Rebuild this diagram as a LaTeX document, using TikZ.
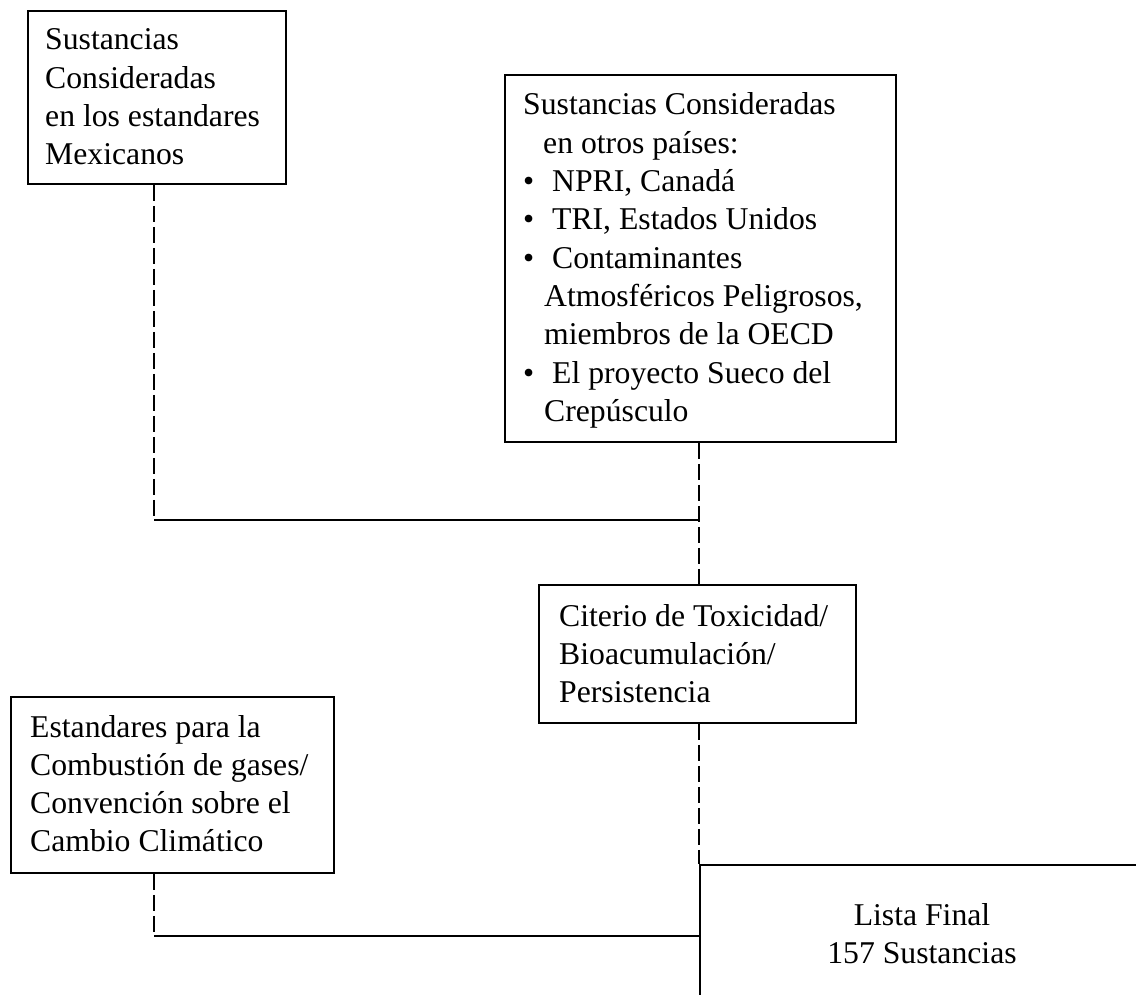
\documentclass[tikz,border=0pt]{standalone}
\usepackage{fontspec}
\setmainfont{Liberation Serif}
\begin{document}
\begin{tikzpicture}[x=1pt,y=-1pt,
  box/.style={draw, line width=1.8pt, rectangle, inner sep=0pt, anchor=north west},
  txt/.style={inner sep=0pt, anchor=base west, font=\fontsize{31.7}{38.3}\selectfont},
  ctxt/.style={inner sep=0pt, anchor=base, font=\fontsize{31.7}{38.3}\selectfont},
  link/.style={line width=1.8pt},
  dlink/.style={line width=1.8pt, dash pattern=on 16pt off 5pt}]
\useasboundingbox (0,0) rectangle (1136,995);
\clip (0,0) rectangle (1136,995);
% boxes
\node[box, minimum width=258pt, minimum height=173pt] (b1) at (27,10) {};
\node[box, minimum width=391pt, minimum height=367pt] (b2) at (504,74) {};
\node[box, minimum width=317pt, minimum height=138pt] (b3) at (538,584) {};
\node[box, minimum width=323pt, minimum height=176pt] (b4) at (10,696) {};
\node[box, minimum width=600pt, minimum height=300pt] (fin) at (699,864) {};
% texts
\node[txt] (t1) at (45,50) {\begin{tabular}[t]{@{}l@{}}Sustancias\\Consideradas\\en los estandares\\Mexicanos\end{tabular}};
\node[txt] (t2) at (523,115) {\begin{tabular}[t]{@{}l@{}}Sustancias Consideradas\\
\hspace*{20pt}en otros países:\\
\makebox[29pt][l]{•}NPRI, Canadá\\
\makebox[29pt][l]{•}TRI, Estados Unidos\\
\makebox[29pt][l]{•}Contaminantes\\
\hspace*{21pt}Atmosféricos Peligrosos,\\
\hspace*{21pt}miembros de la OECD\\
\makebox[29pt][l]{•}El proyecto Sueco del\\
\hspace*{21pt}Crepúsculo\end{tabular}};
\node[txt] (t3) at (559,626) {\begin{tabular}[t]{@{}l@{}}Citerio de Toxicidad/\\Bioacumulación/\\Persistencia\end{tabular}};
\node[txt] (t4) at (30,737) {\begin{tabular}[t]{@{}l@{}}Estandares para la\\Combustión de gases/\\Convención sobre el\\Cambio Climático\end{tabular}};
\node[ctxt] (tf) at (922,925) {\begin{tabular}[t]{@{}c@{}}Lista Final\\157 Sustancias\end{tabular}};
% connectors
\coordinate (b1o) at ([xshift=127pt]b1.south west);
\coordinate (b2o) at ([xshift=195pt]b2.south west);
\coordinate (b3o) at ([xshift=161pt]b3.south west);
\coordinate (b4o) at ([xshift=144pt]b4.south west);
\coordinate (j1) at (699,520);
\coordinate (j2) at (699,936);
\draw[dlink] (b1o) -- (b1o |- j1);
\draw[link] (b1o |- j1) -- (j1);
\draw[dlink] (b2o) -- (b2o |- b3.north);
\draw[dlink] (b3o) -- (b3o |- fin.north west);
\draw[dlink] (b4o) -- (b4o |- j2);
\draw[link] (b4o |- j2) -- (j2);
\end{tikzpicture}
\end{document}
